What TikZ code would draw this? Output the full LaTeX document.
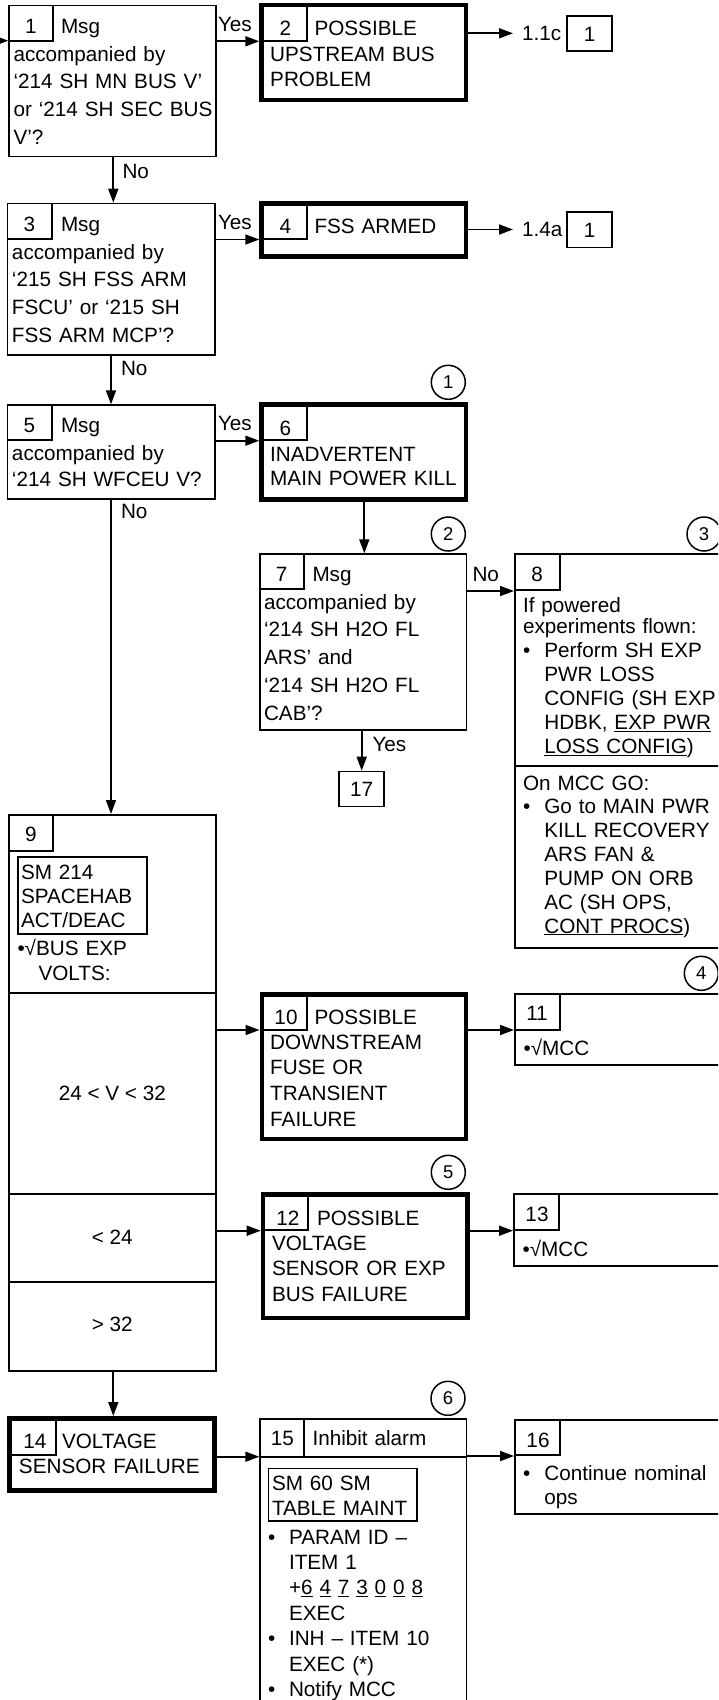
\documentclass[tikz,border=0pt]{standalone}
\usepackage{fontspec}
\setmainfont{Liberation Sans}
\usetikzlibrary{arrows.meta}
\newcommand\fsz{\fontsize{20.7}{27.7}\selectfont}
\newcommand\thinbx[5]{\node[thinbox,anchor=north west,minimum width={#4-#2-1.7},minimum height={#5-#3-1.7}] (#1) at (#2,#3) {};}
\newcommand\thickbx[5]{\node[thickbox,anchor=north west,minimum width={#4-#2-4.5},minimum height={#5-#3-4.5}] (#1) at (#2,#3) {};}
\begin{document}
\begin{tikzpicture}[x=1pt,y=-1pt,
 thinbox/.style={draw,line width=1.7pt,inner sep=0pt,outer sep=0.85pt},
 thickbox/.style={draw,line width=4.5pt,inner sep=0pt,outer sep=2.25pt},
 ln/.style={line width=1.7pt},
 arr/.style={line width=1.7pt,-{Triangle[length=14pt,width=10pt]}},
 txt/.style={inner sep=0pt,outer sep=0pt,anchor=base west,align=left,text width=260pt,font=\fontsize{20.7}{#1}\selectfont},
 txt/.default=27.7,
 ctr/.style={inner sep=0pt,outer sep=0pt,anchor=base,font=\fsz},
 lab/.style={inner xsep=9pt,inner ysep=0pt,outer sep=0pt,anchor=base west,font=\fsz},
 circ/.style={draw,circle,line width=1.5pt,minimum size=34pt,inner sep=0pt,font=\fontsize{18.5}{20}\selectfont},
]
\useasboundingbox (0,0) rectangle (718,1700);
\clip (0,0) rectangle (718,1700);

% ---------- boxes ----------
\thinbx{b1}{8.3}{4.7}{216.7}{157.3}
\thickbx{b2}{259.3}{2.7}{468.3}{102.3}
\thinbx{b3}{6.7}{202.7}{215.7}{356}
\thickbx{b4}{259.3}{201.3}{468.3}{258.7}
\thinbx{b5}{6.7}{404.3}{215.7}{500}
\thickbx{b6}{259.3}{402.3}{468.3}{501.7}
\thinbx{b7}{259.3}{553.3}{467.3}{730.7}
\thinbx{b8}{514}{553.3}{740}{949}
\thinbx{b17}{338.3}{770.7}{385}{807.3}
\thinbx{b9}{8.3}{814}{216.7}{1371.5}
\thickbx{b10}{259.5}{992}{468.3}{1141}
\thinbx{b11}{514}{993.3}{740}{1065.5}
\thickbx{b12}{260.7}{1192.3}{469.7}{1320}
\thinbx{b13}{513}{1193.3}{740}{1267}
\thickbx{b14}{7.3}{1416}{216.7}{1492.7}
\thinbx{b15}{259.3}{1418.3}{467.3}{1730}
\thinbx{b16}{514}{1419.3}{740}{1514.5}
\thinbx{r1}{566.4}{15}{612.6}{51.7}
\thinbx{r2}{566.4}{211}{612.6}{248.3}
\thinbx{i9}{17.3}{856}{148}{934.5}
\thinbx{i15}{267.7}{1467.7}{417.7}{1522}

% ---------- number cells and dividers ----------
\draw[ln] (53.3,4.7) |- (8.3,40.7);
\draw[ln] (307.3,2.7) |- (259.3,41.3);
\draw[ln] (52.3,202.7) |- (6.7,239.3);
\draw[ln] (307.3,201.3) |- (259.3,239.3);
\draw[ln] (52.3,404.3) |- (6.7,440);
\draw[ln] (307.3,402.3) |- (259.3,440);
\draw[ln] (304,553.3) |- (259.3,589.3);
\draw[ln] (559.7,553.3) |- (514,590);
\draw[ln] (53.3,814) |- (8.3,850.7);
\draw[ln] (307.3,992) |- (259.5,1030);
\draw[ln] (559.7,993.3) |- (514,1030);
\draw[ln] (308.3,1192.3) |- (260.7,1230);
\draw[ln] (558.7,1193.3) |- (513,1230);
\draw[ln] (55.7,1416) |- (7.3,1455);
\draw[ln] (304,1418.3) -- (304,1457.3);
\draw[ln] (259.3,1457.3) -- (467.3,1457.3);
\draw[ln] (559.7,1419.3) |- (514,1455);
\draw[ln] (514,765.7) -- (740,765.7);
\draw[ln] (8.3,993.3) -- (216.7,993.3);
\draw[ln] (8.3,1194) -- (216.7,1194);
\draw[ln] (8.3,1281.7) -- (216.7,1281.7);

% ---------- circled numbers ----------
\node[circ] (c1) at (448.3,382.3) {1};
\node[circ] (c2) at (448.3,534) {2};
\node[circ] (c3) at (704,534) {3};
\node[circ] (c4) at (701.3,973.3) {4};
\node[circ] (c5) at (448.3,1172.3) {5};
\node[circ] (c6) at (448,1398.3) {6};

% ---------- texts ----------
\node[ctr] (n1) at (30.8,33) {1};
\node[txt] (t1a) at (61,33) {Msg};
\node[txt] (t1b) at (13.5,61) {accompanied by\\‘214 SH MN BUS V’\\or ‘214 SH SEC BUS\\V’?};

\node[ctr] (n2) at (285.5,35) {2};
\node[txt] (t2a) at (314.5,35) {POSSIBLE};
\node[txt=25.7] (t2b) at (270.2,61) {UPSTREAM BUS\\PROBLEM};
\node[lab] (l11) at (513,40.8) {1.1c};
\node[ctr] (r1t) at (589.5,41) {1};

\node[ctr] (n3) at (29.5,231) {3};
\node[txt] (t3a) at (61,231) {Msg};
\node[txt=27.9] (t3b) at (12,259) {accompanied by\\‘215 SH FSS ARM\\FSCU’ or ‘215 SH\\FSS ARM MCP’?};
\node[ctr] (n4) at (285.5,233) {4};
\node[txt] (t4a) at (314.5,233) {FSS ARMED};
\node[lab] (l14) at (513,236.7) {1.4a};
\node[ctr] (r2t) at (589.5,237) {1};

\node[ctr] (n5) at (29.5,432) {5};
\node[txt] (t5a) at (61,432) {Msg};
\node[txt=26.7] (t5b) at (12,460) {accompanied by\\‘214 SH WFCEU V?};
\node[ctr] (n6) at (285.5,435) {6};
\node[txt=24.7] (t6) at (270.2,461) {INADVERTENT\\MAIN POWER KILL};

\node[ctr] (n7) at (281.7,581.7) {7};
\node[txt] (t7a) at (312.5,581.7) {Msg};
\node[txt=27.75] (t7b) at (264,609) {accompanied by\\‘214 SH H2O FL\\ARS’ and\\‘214 SH H2O FL\\CAB’?};

\node[ctr] (n8) at (537,581) {8};
\node[txt=21] (t8a) at (523,612) {If powered\\experiments flown:};
\node[txt] (t8b) at (523,657.5) {•};
\node[txt=24] (t8c) at (544.3,657.5) {Perform SH EXP\\PWR LOSS\\CONFIG (SH EXP\\HDBK, \underline{EXP PWR}\\\underline{LOSS CONFIG})};
\node[txt] (t8d) at (523,790) {On MCC GO:};
\node[txt] (t8e) at (523,813.5) {•};
\node[txt=23.9] (t8f) at (544.3,813.5) {Go to MAIN PWR\\KILL RECOVERY\\ARS FAN \&\\PUMP ON ORB\\AC (SH OPS,\\\underline{CONT PROCS})};

\node[ctr] (n17) at (361.7,796.5) {17};

\node[ctr] (n9) at (31,841.5) {9};
\node[txt=24.2] (t9a) at (21,879) {SM 214\\SPACEHAB\\ACT/DEAC};
\node[txt] (t9b) at (17.5,955.7) {•√BUS EXP};
\node[txt] (t9c) at (38.5,980) {VOLTS:};
\node[ctr] (t9d) at (112.3,1100) {24 < V < 32};
\node[ctr] (t9e) at (112.3,1244) {< 24};
\node[ctr] (t9f) at (112.3,1331.7) {> 32};

\node[ctr] (n10) at (286,1024) {10};
\node[txt] (t10a) at (314.5,1024) {POSSIBLE};
\node[txt=25.9] (t10b) at (270.2,1049) {DOWNSTREAM\\FUSE OR\\TRANSIENT\\FAILURE};
\node[ctr] (n11) at (537,1020.7) {11};
\node[txt] (t11) at (523.5,1055.5) {•√MCC};

\node[ctr] (n12) at (288,1225) {12};
\node[txt] (t12a) at (317,1225) {POSSIBLE};
\node[txt=25.9] (t12b) at (272,1250) {VOLTAGE\\SENSOR OR EXP\\BUS FAILURE};
\node[ctr] (n13) at (537,1221.5) {13};
\node[txt] (t13) at (522.5,1256) {•√MCC};

\node[ctr] (n14) at (35,1448.3) {14};
\node[txt] (t14a) at (62,1448.3) {VOLTAGE};
\node[txt] (t14b) at (19,1473.3) {SENSOR FAILURE};

\node[ctr] (n15) at (282.3,1445.7) {15};
\node[txt] (t15a) at (312.5,1445.7) {Inhibit alarm};
\node[txt=24.3] (t15b) at (272,1490.7) {SM 60 SM\\TABLE MAINT};
\node[txt] (t15c) at (268,1544) {•};
\node[txt=25.4] (t15d) at (289,1544) {PARAM ID –\\ITEM 1\\+\underline{6} \underline{4} \underline{7} \underline{3} \underline{0} \underline{0} \underline{8}\\EXEC};
\node[txt] (t15e) at (268,1645.6) {•};
\node[txt=25.4] (t15f) at (289,1645.6) {INH – ITEM 10\\EXEC (*)};
\node[txt] (t15g) at (268,1696.5) {•};
\node[txt] (t15h) at (289,1696.5) {Notify MCC};

\node[ctr] (n16) at (538,1447) {16};
\node[txt] (t16a) at (523,1480.5) {•};
\node[txt=23.5] (t16b) at (544.3,1480.5) {Continue nominal\\ops};

% ---------- branch labels ----------
\node[txt] (y1) at (218,31.7) {Yes};
\node[txt] (no1) at (122.5,178.3) {No};
\node[txt] (y2) at (218,229.7) {Yes};
\node[txt] (no2) at (121,375) {No};
\node[txt] (y3) at (218,430) {Yes};
\node[txt] (no3) at (121,518.7) {No};
\node[txt] (no4) at (472.5,581.7) {No};
\node[txt] (y4) at (372.5,751.7) {Yes};

% ---------- connectors ----------
\coordinate (entry) at (-20,40.7);
\draw[arr] (entry) -- (b1.west |- entry);
\draw[arr] (b1.east |- 0,41.3) -- (b2.west |- 0,41.3);
\draw[arr] (b2.east |- 0,33.3) -- (l11.west |- 0,33.3);
\draw[arr] (b1.south -| 113.3,0) -- (b3.north -| 113.3,0);
\draw[arr] (b3.east |- 0,239.5) -- (b4.west |- 0,239.5);
\draw[arr] (b4.east |- 0,229.5) -- (l14.west |- 0,229.5);
\draw[arr] (b3.south -| 111,0) -- (b5.north -| 111,0);
\draw[arr] (b5.east |- 0,440.7) -- (b6.west |- 0,440.7);
\draw[arr] (b5.south -| 111,0) -- (b9.north -| 111,0);
\draw[arr] (b6.south -| 364.3,0) -- (b7.north -| 364.3,0);
\draw[arr] (b7.east |- 0,591) -- (b8.west |- 0,591);
\draw[arr] (b7.south -| 361.7,0) -- (b17.north -| 361.7,0);
\draw[arr] (b9.east |- 0,1030) -- (b10.west |- 0,1030);
\draw[arr] (b10.east |- 0,1030) -- (b11.west |- 0,1030);
\draw[arr] (b9.east |- 0,1230.7) -- (b12.west |- 0,1230.7);
\draw[arr] (b12.east |- 0,1230.7) -- (b13.west |- 0,1230.7);
\draw[arr] (b9.south -| 113.3,0) -- (b14.north -| 113.3,0);
\draw[arr] (b14.east |- 0,1456.7) -- (b15.west |- 0,1456.7);
\draw[arr] (b15.east |- 0,1456) -- (b16.west |- 0,1456);
\end{tikzpicture}
\end{document}
